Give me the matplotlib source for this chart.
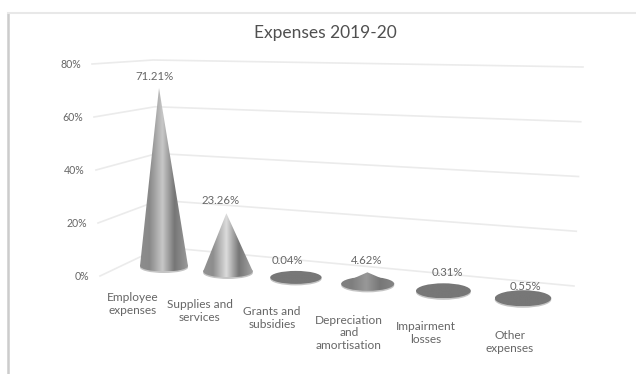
import numpy as np
import matplotlib
matplotlib.use("Agg")
import matplotlib.pyplot as plt
from matplotlib.colors import LinearSegmentedColormap, to_rgb
from matplotlib.patches import Ellipse, Polygon

# Expense shares, percent of total
categories = ["Employee\nexpenses", "Supplies and\nservices", "Grants and\nsubsidies",
              "Depreciation\nand\namortisation", "Impairment\nlosses", "Other\nexpenses"]
values = [71.21, 23.26, 0.04, 4.62, 0.31, 0.55]
tick_values = [0, 20, 40, 60, 80]

# Where the text sits, in pixels
cat_label_pos = [(133, 304), (200, 311), (272, 318), (349, 333), (426, 333), (510, 342)]
value_label_pos = [(155, 76), (221, 200), (287, 260), (367, 260), (447, 272), (525, 287)]

TEXT = "#666666"
GRID = "#ebebeb"
FONT = "Lato"

shade = LinearSegmentedColormap.from_list("cone", [
    (0.0, "#929292"), (0.2, "#8e8e8e"), (0.47, "#dcdcdc"), (0.72, "#767676"), (1.0, "#a4a4a4")])


def floor_point(i):
    # perspective spacing along the floor of the chart
    return 164 + 62.05 * i + 1.95 * i ** 2, 266 + 5.2 * i + 0.25 * i ** 2


def wall_point(corner, pct):
    # (x0, y0, x80, y80) is one vertical edge of the walls
    x0, y0, x80, y80 = corner
    return x0 + (x80 - x0) * pct / 80, y0 + (y80 - y0) * pct / 80


def cone(ax, i, pct):
    x, y = floor_point(i)
    half_w = 24 + 0.85 * i
    half_h = 5.5 + 0.5 * i
    height = pct * 2.5
    apex = (x - pct * 0.07, y - height)

    # short cones look nearly flat, so the shading fades to plain grey
    flat = min(height / 45, 1) * 0.9 + 0.1 if height > 3 else 0
    # the tallest cone has a duller highlight
    if height > 100:
        flat = 0.8
    stops = shade(np.linspace(0, 1, 256))[:, :3]
    base = np.array(to_rgb("#777777"))
    grad = (base + (stops - base) * flat)[None, :, :]

    rim = Ellipse((x, y + 1.5), 2 * half_w, 2 * half_h, fc="#c4c4c4", ec="none", zorder=3)
    ax.add_patch(rim)
    extent = (x - half_w, x + half_w, y + half_h, min(apex[1], y - half_h) - 1)
    shapes = [Ellipse((x, y), 2 * half_w, 2 * half_h, fc="none", ec="none")]
    if height > 3:
        shapes.append(Polygon([(x - half_w, y), apex, (x + half_w, y)], fc="none", ec="none"))
    for s in shapes:
        ax.add_patch(s)
        im = ax.imshow(grad, extent=extent, aspect="auto", zorder=4, interpolation="bilinear")
        im.set_clip_path(s)


fig = plt.figure(figsize=(6.36, 3.74), dpi=100)
ax = fig.add_axes([0, 0, 1, 1])

# chart frame, only the top and left edges show
ax.plot([8, 8], [13, 374], color="#cccccc", lw=1.8)
ax.plot([8, 636], [13, 13], color="#e8e8e8", lw=1.5)

left_edge = (100, 276, 92, 64)
back_edge = (161, 247, 153, 60)
right_edge = (574, 286, 583, 67)
for t in tick_values:
    pts = [wall_point(e, t) for e in (left_edge, back_edge, right_edge)]
    ax.plot(*zip(*pts), color=GRID, lw=1.2, zorder=1)
    lx, ly = pts[0]
    ax.text(lx - 11, ly, f"{t}%", ha="right", va="center", fontsize=7.6, color=TEXT, family=FONT)

for i, v in enumerate(values):
    cone(ax, i, v)

for (x, y), v in zip(value_label_pos, values):
    ax.text(x, y, f"{v:.2f}%", ha="center", va="center", fontsize=8.2, color=TEXT, family=FONT, zorder=5)

for (x, y), c in zip(cat_label_pos, categories):
    ax.text(x, y, c, ha="center", va="center", fontsize=8.6, color=TEXT, family=FONT,
            linespacing=1.15, zorder=5)

ax.text(325, 33, "Expenses 2019-20", ha="center", va="center", fontsize=12.5, color="#505050", family=FONT)

ax.set_xlim(0, 636)
ax.set_ylim(374, 0)
ax.axis("off")

fig.savefig("out.png", dpi=100)
